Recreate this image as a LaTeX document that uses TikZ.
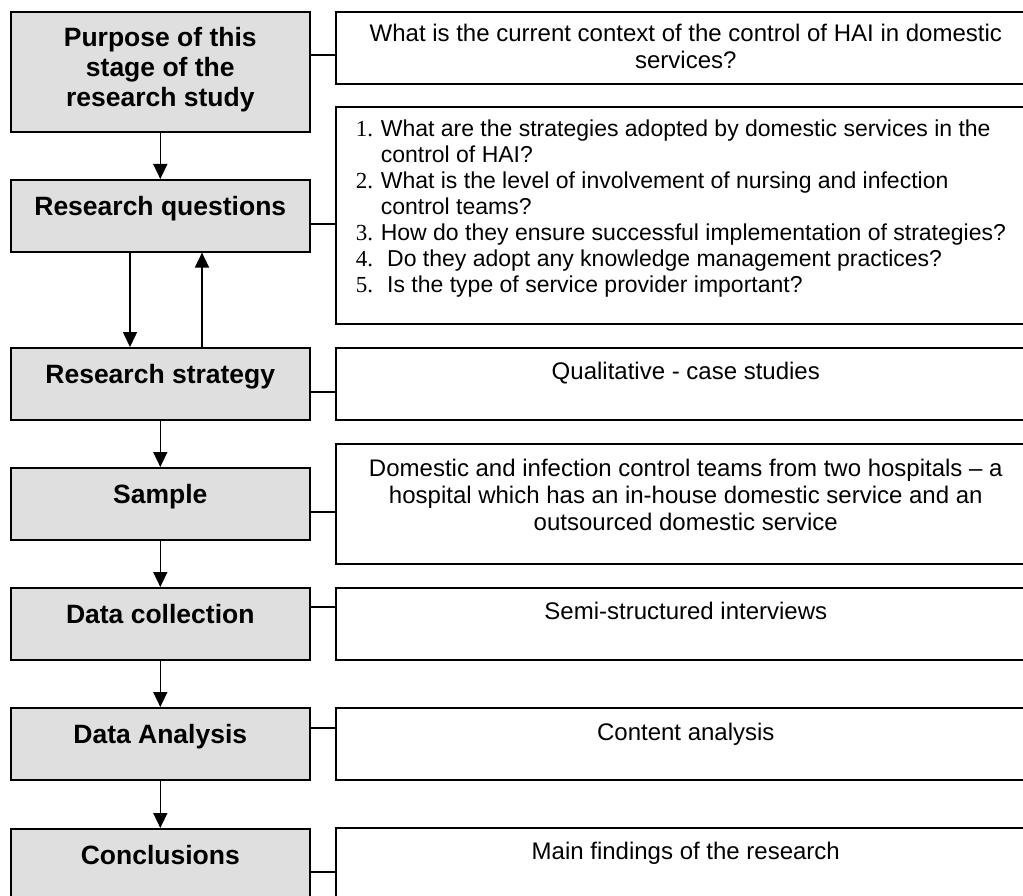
\documentclass[tikz,border=0pt]{standalone}
\usepackage{fontspec}
\setmainfont{Liberation Sans}
\newfontfamily\numfont{Liberation Serif}
\usetikzlibrary{arrows.meta}

\newcommand{\lines}[2][c]{\begin{tabular}[t]{@{}#1@{}}#2\end{tabular}}
\newcommand{\itemno}[1]{\makebox[25pt][l]{\numfont #1}}

\tikzset{
  stage/.style={draw, line width=1.6pt, fill=gray!25, anchor=north west, minimum width=299pt, inner sep=0pt, text height=36pt, font=\bfseries\fontsize{26.5}{30}\selectfont},
  answer/.style={draw, line width=1.6pt, fill=white, anchor=north west, minimum width=700pt, inner sep=0pt, font=\fontsize{24}{27}\selectfont},
  flow/.style={line width=1.6pt, -{Triangle[length=15pt,width=14pt]}},
  link/.style={line width=1.6pt}
}

\begin{document}
\begin{tikzpicture}[x=1pt, y=-1pt]
  \useasboundingbox (0,0) rectangle (1023,896);
  \clip (0,0) rectangle (1023,896);

  % stages
  \node[stage, text height=35pt, text depth=85pt] (l1) at (10,11) {\lines{Purpose of this\\stage of the\\research study}};
  \node[stage, text depth=36pt] (l2) at (10,179) {Research questions};
  \node[stage, text depth=36pt] (l3) at (10,347) {Research strategy};
  \node[stage, text depth=36pt] (l4) at (10,467) {Sample};
  \node[stage, text depth=36pt] (l5) at (10,587) {Data collection};
  \node[stage, text depth=36pt] (l6) at (10,707) {Data Analysis};
  \node[stage, text depth=80pt] (l7) at (10,828) {Conclusions};

  % answers
  \node[answer, text height=30pt, text depth=42pt] (r1) at (335,11) {\lines{What is the current context of the control of HAI in domestic\\services?}};
  \node[answer, inner xsep=20pt, text height=30pt, text depth=187pt, font=\fontsize{23}{26}\selectfont] (r2) at (335,106) {\lines[p{680pt}]{%
    \itemno{1.}What are the strategies adopted by domestic services in the\\
    \hspace*{25pt}control of HAI?\\
    \itemno{2.}What is the level of involvement of nursing and infection\\
    \hspace*{25pt}control teams?\\
    \itemno{3.}How do they ensure successful implementation of strategies?\\
    \itemno{4.}\ Do they adopt any knowledge management practices?\\
    \itemno{5.}\ Is the type of service provider important?}};
  \node[answer, text height=32pt, text depth=40pt] (r3) at (335,347) {Qualitative - case studies};
  \node[answer, text height=33pt, text depth=87pt] (r4) at (335,443) {\lines{Domestic and infection control teams from two hospitals – a\\hospital which has an in-house domestic service and an\\outsourced domestic service}};
  \node[answer, text height=32pt, text depth=40pt] (r5) at (335,587) {Semi-structured interviews};
  \node[answer, text height=33pt, text depth=39pt] (r6) at (335,707) {Content analysis};
  \node[answer, text height=32pt, text depth=80pt] (r7) at (335,827) {Main findings of the research};

  \foreach \row/\y in {1/55,2/224,3/392,4/512,5/607,6/728,7/872}
    \draw[link] (l\row.east |- 0,\y) -- (r\row.west |- 0,\y);

  \path[flow]
  (l1) edge (l2)
  (l3) edge (l4)
  (l4) edge (l5)
  (l5) edge (l6)
  (l6) edge (l7)
  ;
  \draw[flow] (l2.south -| 130,0) -- (l3.north -| 130,0);
  \draw[flow] (l3.north -| 202,0) -- (l2.south -| 202,0);
\end{tikzpicture}
\end{document}
